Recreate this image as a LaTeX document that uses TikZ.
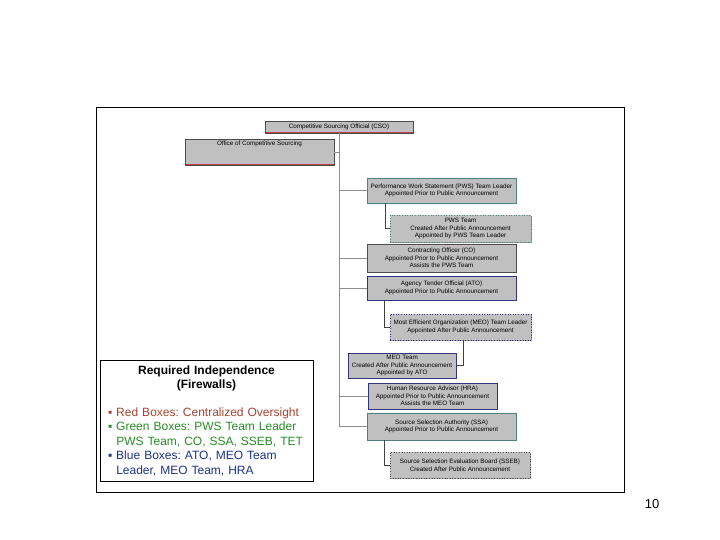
\documentclass[tikz,border=0pt]{standalone}
\usepackage{fontspec}
\setmainfont{Liberation Sans}
\usepackage{xcolor}
\usepackage{tikz}
\usetikzlibrary{shadows}
\definecolor{BoxGray}{RGB}{192, 192, 192}
\definecolor{LineGray}{RGB}{140, 140, 140}
\definecolor{RedEdge}{RGB}{192, 64, 64}
\definecolor{GreenEdge}{RGB}{80, 128, 128}
\definecolor{BlueEdge}{RGB}{51, 51, 128}
\definecolor{RedText}{RGB}{168, 68, 48}
\definecolor{GreenText}{RGB}{40, 140, 40}
\definecolor{BlueText}{RGB}{30, 50, 130}
\frenchspacing

\begin{document}
\begin{tikzpicture}[x=1pt, y=-1pt,
    orgbox/.style={draw, fill=BoxGray, align=center, inner sep=1pt, line width=0.6pt,
      font=\fontsize{6.3}{7.6}\selectfont,
      drop shadow={shadow xshift=1.2pt, shadow yshift=-1.2pt, fill=gray!80, opacity=1}},
    redbox/.style={orgbox, draw=gray!60!black,
      path picture={\fill[RedEdge] ([yshift=1.4pt]path picture bounding box.south west) rectangle (path picture bounding box.south east);}},
    greenbox/.style={orgbox, draw=GreenEdge},
    bluebox/.style={orgbox, draw=BlueEdge},
    link/.style={draw=LineGray, line width=0.7pt},
    sublink/.style={draw=black!75, line width=0.7pt}]
            \useasboundingbox (0,0) rectangle (720,540);
            % Frame
            \node[draw, line width=1pt, minimum width=528, minimum height=384] (frame) at (360,300) {};

            % Centralized oversight
            \node[redbox, minimum width=148, minimum height=12] (cso) at (339,127) {Competitive Sourcing Official (CSO)};
            \node[redbox, minimum width=149, minimum height=26, text height=4.5pt, text depth=17.5pt] (ocs) at (259.5,152) {Office of Competitive Sourcing};

            % PWS side
            \node[greenbox, minimum width=149, minimum height=25] (pwsl) at (441.5,190.5) {Performance Work Statement (PWS) Team Leader\\Appointed Prior to Public Announcement};
            \node[greenbox, dotted, minimum width=141, minimum height=27] (pwst) at (460.5,228.5) {PWS Team\\Created After Public Announcement\\Appointed by PWS Team Leader};
            \node[greenbox, draw=gray!60!black, minimum width=149, minimum height=28] (co) at (441.5,258) {Contracting Officer (CO)\\Appointed Prior to Public Announcement\\Assists the PWS Team};

            % MEO side
            \node[bluebox, minimum width=149, minimum height=24] (ato) at (441.5,288) {Agency Tender Official (ATO)\\Appointed Prior to Public Announcement};
            \node[bluebox, dotted, minimum width=141, minimum height=26] (meol) at (460.5,327) {Most Efficient Organization (MEO) Team Leader\\Appointed After Public Announcement};
            \node[bluebox, minimum width=108, minimum height=25] (meot) at (402,365.5) {MEO Team\\Created After Public Announcement\\Appointed by ATO};
            \node[bluebox, minimum width=129, minimum height=26] (hra) at (432.5,396) {Human Resource Advisor (HRA)\\Appointed Prior to Public Announcement\\Assists the MEO Team};

            % Source selection
            \node[greenbox, minimum width=149, minimum height=27] (ssa) at (441.5,426.5) {Source Selection Authority (SSA)\\Appointed Prior to Public Announcement};
            \node[greenbox, dotted, draw=gray!60!black, minimum width=140, minimum height=26] (sseb) at (460,465) {Source Selection Evaluation Board (SSEB)\\Created After Public Announcement};

            % Firewalls
            \node[draw, fill=white, line width=0.8pt, minimum width=213, minimum height=121, text width=203, inner sep=0pt,
              font=\fontsize{12}{14.5}\selectfont] (firewall) at (206.5,420.5) {%
              {\centering\bfseries Required Independence\\(Firewalls)\par}
              \vspace{13pt}
              \hspace*{3pt}\textcolor{RedText}{▪ Red Boxes: Centralized Oversight}\\
              \hspace*{3pt}\textcolor{GreenText}{▪ Green Boxes: PWS Team Leader}\\
              \hspace*{3pt}\textcolor{GreenText}{\phantom{▪ }PWS Team, CO, SSA, SSEB, TET}\\
              \hspace*{3pt}\textcolor{BlueText}{▪ Blue Boxes: ATO, MEO Team}\\
              \hspace*{3pt}\textcolor{BlueText}{\phantom{▪ }Leader, MEO Team, HRA}};

            % Page number
            \node[font=\fontsize{13}{15}\selectfont] (pagenum) at (652,504) {10};

            % Links
            \draw[link] (cso.south) |- (ocs.east);
            \draw[link] (cso.south) |- (pwsl.west);
            \draw[link] (cso.south) |- (co.west);
            \draw[link] (cso.south) |- (ato.west);
            \draw[link] (cso.south) |- (hra.west);
            \draw[link] (cso.south) |- (ssa.west);
            \draw[sublink] ([xshift=19pt]pwsl.south west) |- (pwst.west);
            \draw[sublink] ([xshift=18pt]ato.south west) |- (meol.west);
            \draw[sublink] ([xshift=74pt]meol.south west) |- (meot.east);
            \draw[sublink] ([xshift=18pt]ssa.south west) |- (sseb.west);
        \end{tikzpicture}
\end{document}
